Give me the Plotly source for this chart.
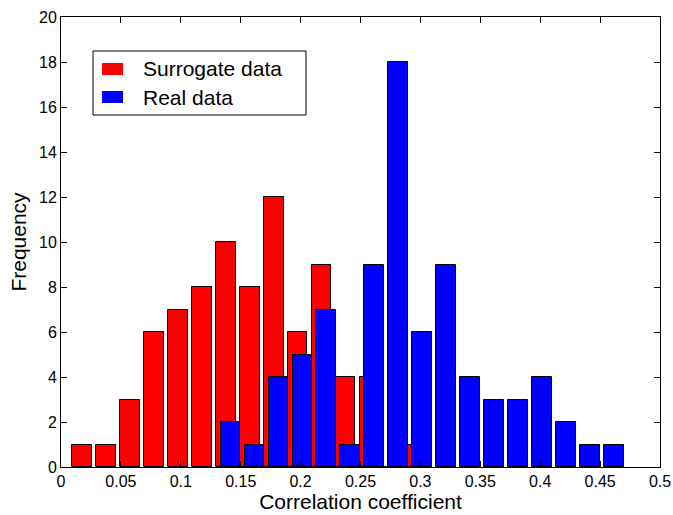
import plotly.graph_objects as go

# Bin centres (correlation coefficient) and counts
surrogate_x = [0.0175, 0.0375, 0.0575, 0.0775, 0.0975, 0.1175, 0.1375, 0.1575,
               0.1775, 0.1975, 0.2175, 0.2375, 0.2575, 0.2775, 0.2975]
surrogate_y = [1, 1, 3, 6, 7, 8, 10, 8, 12, 6, 9, 4, 4, 0, 1]

real_x = [0.1415, 0.1615, 0.1815, 0.2015, 0.2215, 0.2415, 0.2615, 0.2815, 0.3015,
          0.3215, 0.3415, 0.3615, 0.3815, 0.4015, 0.4215, 0.4415, 0.4615]
real_y = [2, 1, 4, 5, 7, 1, 9, 18, 6, 9, 4, 3, 3, 4, 2, 1, 1]

x_ticks = [0, 0.05, 0.1, 0.15, 0.2, 0.25, 0.3, 0.35, 0.4, 0.45, 0.5]
x_tick_labels = ["0", "0.05", "0.1", "0.15", "0.2", "0.25", "0.3", "0.35", "0.4", "0.45", "0.5"]
y_ticks = [0, 2, 4, 6, 8, 10, 12, 14, 16, 18, 20]

series_names = ["Surrogate data", "Real data"]
series_colors = ["#ff0000", "#0000ff"]

FONT = "Liberation Sans, Arial, Helvetica, sans-serif"
BAR_W = 0.0165
W, H = 673, 515
ML, MR, MT, MB = 61, 13, 17, 48
PW, PH = W - ML - MR, H - MT - MB


def px(x):
    return (x - ML) / PW


def py(y):
    return (H - MB - y) / PH


fig = go.Figure()
for xs, ys, name, color in [(surrogate_x, surrogate_y, series_names[0], series_colors[0]),
                            (real_x, real_y, series_names[1], series_colors[1])]:
    fig.add_trace(go.Bar(x=xs, y=ys, width=BAR_W, name=name, showlegend=False,
                         marker=dict(color=color, line=dict(color="#000000", width=1))))

axis_common = dict(showline=True, linecolor="black", linewidth=1, mirror="allticks",
                   ticks="inside", ticklen=6, tickcolor="black", showgrid=False,
                   zeroline=False, automargin=False,
                   tickfont=dict(family=FONT, size=16, color="black"))

# Legend box drawn MATLAB-style (wide swatches)
shapes = [dict(type="rect", xref="paper", yref="paper",
               x0=px(93), x1=px(306), y0=py(115), y1=py(51),
               line=dict(color="black", width=1), fillcolor="white", layer="above")]
annotations = []
for i, (name, color) in enumerate(zip(series_names, series_colors)):
    cy = 69 + i * 28
    shapes.append(dict(type="rect", xref="paper", yref="paper",
                       x0=px(102), x1=px(123), y0=py(cy + 6), y1=py(cy - 6),
                       line=dict(width=0), fillcolor=color, layer="above"))
    annotations.append(dict(xref="paper", yref="paper", x=px(141), y=py(cy),
                            xanchor="left", yanchor="middle", text=name, showarrow=False,
                            font=dict(family=FONT, size=21, color="black")))

fig.update_layout(
    width=W, height=H,
    margin=dict(l=ML, r=MR, t=MT, b=MB, autoexpand=False),
    plot_bgcolor="white", paper_bgcolor="white",
    barmode="overlay", bargap=0,
    font=dict(family=FONT, color="black"),
    showlegend=False,
    shapes=shapes,
    annotations=annotations,
    xaxis=dict(range=[0, 0.5], tickvals=x_ticks, ticktext=x_tick_labels,
               title=dict(text="Correlation coefficient", font=dict(size=21), standoff=0),
               **axis_common),
    yaxis=dict(range=[0, 20], tickvals=y_ticks,
               title=dict(text="Frequency", font=dict(size=21), standoff=6),
               **axis_common),
)

fig.write_html("out.html")
